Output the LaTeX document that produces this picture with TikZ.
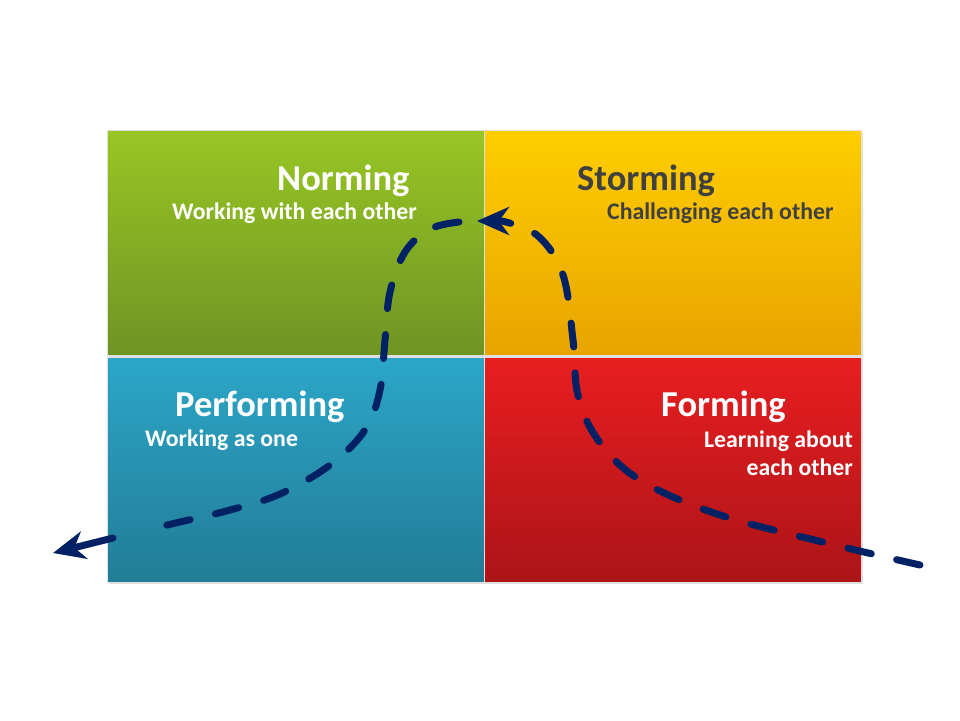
\documentclass[tikz,border=0pt]{standalone}
\usepackage{fontspec}
\setmainfont{Carlito}
\usetikzlibrary{arrows.meta, positioning, calc, shadows}
\definecolor{GreenTop}{RGB}{152,198,36}
\definecolor{GreenBot}{RGB}{110,148,36}
\definecolor{GoldTop}{RGB}{255,206,0}
\definecolor{GoldBot}{RGB}{232,164,0}
\definecolor{BlueTop}{RGB}{44,166,200}
\definecolor{BlueBot}{RGB}{34,124,150}
\definecolor{RedTop}{RGB}{232,30,32}
\definecolor{RedBot}{RGB}{172,20,24}
\definecolor{PathNavy}{RGB}{0,34,100}
\definecolor{TextGray}{RGB}{64,64,64}
\tikzset{
  quad/.style={minimum width=377pt, minimum height=225pt, inner sep=0pt,
    draw=black!12, line width=0.5pt, drop shadow={opacity=0.25, shadow xshift=2pt, shadow yshift=-2pt}},
  title/.style={font=\fontsize{36.5}{40}\selectfont\bfseries, inner sep=0pt},
  sub/.style={font=\fontsize{23.8}{28}\selectfont\bfseries, inner sep=0pt},
  stage/.style={PathNavy, line width=7pt, line cap=round,
    dash pattern=on 24pt off 26pt},
  tip/.style={-{Stealth[length=32pt, width=28pt, inset=10pt]}, line cap=butt,
    dash pattern=on 0pt off 100pt}
}
\begin{document}
\begin{tikzpicture}[x=1pt, y=-1pt]
  \useasboundingbox (0,0) rectangle (960,720);
  % quadrants
  \node[quad, top color=GreenTop, bottom color=GreenBot, anchor=north west] (norm) at (107,130) {};
  \node[quad, top color=GoldTop, bottom color=GoldBot, anchor=north west] (storm) at (484,130) {};
  \node[quad, top color=BlueTop, bottom color=BlueBot, anchor=north west] (perf) at (107,357) {};
  \node[quad, top color=RedTop, bottom color=RedBot, anchor=north west] (form) at (484,357) {};
  % titles and captions
  \node[title, text=white, anchor=base west] (normT) at (277,190) {Norming};
  \node[sub, text=white, anchor=base west] (normS) at (172,219) {Working with each other};
  \node[title, text=TextGray, anchor=base west] (stormT) at (577,190) {Storming};
  \node[sub, text=TextGray, anchor=base west] (stormS) at (607,219) {Challenging each other};
  \node[title, text=white, anchor=base west] (perfT) at (175,416) {Performing};
  \node[sub, text=white, anchor=base west] (perfS) at (145,446) {Working as one};
  \node[title, text=white, anchor=base west] (formT) at (661,416) {Forming};
  \node[sub, text=white, anchor=base east] (formS) at (853,447) {Learning about};
  \node[sub, text=white, anchor=base east] (formS2) at (853,475) {each other};
  % path of the team
  \coordinate (start) at (920,565);
  \coordinate (turn) at (477,221);
  \coordinate (resume) at (459,222);
  \coordinate (shaft) at (113,538);
  \coordinate (finish) at (53,553);
  \draw[stage] plot[smooth, tension=0.6] coordinates {(start) (835,545) (720,515) (640,480)
    (598,440) (578,395) (573,340) (563,275) (538,236) (502,221)};
  \draw[stage, tip] (502,221) -- (turn);
  \draw[stage] plot[smooth, tension=0.6] coordinates {(resume) (430,229) (405,252) (390,292)
    (385,340) (380,390) (365,430) (330,465) (280,494) (230,510) (180,522) (150,529)};
  \draw[PathNavy, line width=7pt, line cap=round, -{Stealth[length=32pt, width=28pt, inset=10pt]}]
    (shaft) -- (finish);
\end{tikzpicture}
\end{document}
